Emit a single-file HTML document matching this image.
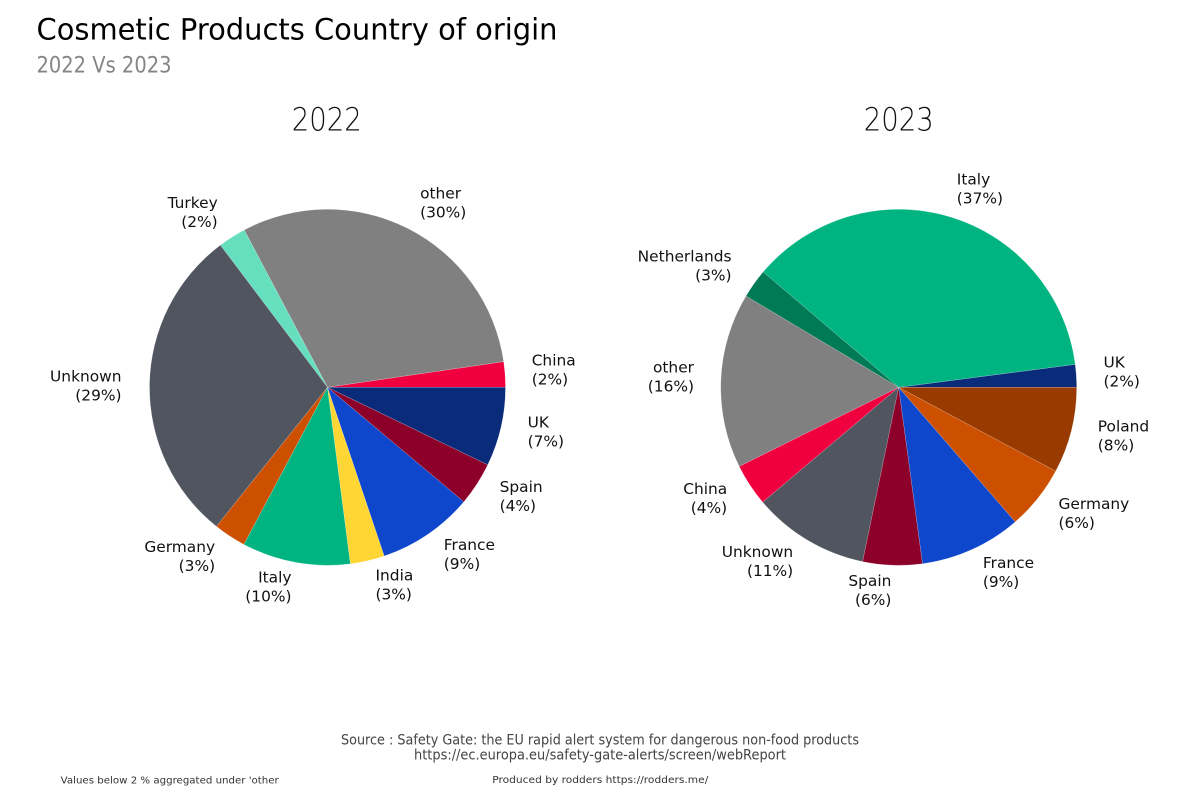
<!DOCTYPE html>
<html>
<head>
<meta charset="utf-8">
<style>
  html, body { margin:0; padding:0; background:#ffffff; }
  svg { display:block; }
  .lbl { font-family: "DejaVu Sans", "Liberation Sans", sans-serif; font-size:15.4px; fill:#111; }
</style>
</head>
<body>
<svg width="1200" height="800" viewBox="0 0 1200 800" xmlns="http://www.w3.org/2000/svg">
  <rect width="1200" height="800" fill="#ffffff"/>

  <!-- Titles -->
  <text x="36.5" y="39.5" font-family="DejaVu Sans, Liberation Sans, sans-serif" font-size="29" fill="#000" textLength="521" lengthAdjust="spacingAndGlyphs">Cosmetic Products Country of origin</text>
  <text x="36.5" y="72.3" font-family="DejaVu Sans, Liberation Sans, sans-serif" font-size="22.5" fill="#858585" textLength="135" lengthAdjust="spacingAndGlyphs">2022 Vs 2023</text>

  <text x="326.7" y="130.7" text-anchor="middle" font-family="DejaVu Sans, Liberation Sans, sans-serif" font-weight="200" font-size="32" fill="#111" textLength="70" lengthAdjust="spacingAndGlyphs">2022</text>
  <text x="898.7" y="130.7" text-anchor="middle" font-family="DejaVu Sans, Liberation Sans, sans-serif" font-weight="200" font-size="32" fill="#111" textLength="70" lengthAdjust="spacingAndGlyphs">2023</text>

  <!-- Left pie 2022 -->
  <g stroke="#ffffff" stroke-width="0.3" stroke-opacity="0.6">
    <path d="M327.5 387.3 L505.5 387.3 A178 178 0 0 0 503.64 361.60 Z" fill="#f0003f"/>
    <path d="M327.5 387.3 L503.64 361.60 A178 178 0 0 0 244.21 229.99 Z" fill="#808080"/>
    <path d="M327.5 387.3 L244.21 229.99 A178 178 0 0 0 220.38 245.14 Z" fill="#66dfbf"/>
    <path d="M327.5 387.3 L220.38 245.14 A178 178 0 0 0 216.45 526.41 Z" fill="#505560"/>
    <path d="M327.5 387.3 L216.45 526.41 A178 178 0 0 0 243.93 544.46 Z" fill="#cc5000"/>
    <path d="M327.5 387.3 L243.93 544.46 A178 178 0 0 0 350.43 563.82 Z" fill="#00b482"/>
    <path d="M327.5 387.3 L350.43 563.82 A178 178 0 0 0 384.27 556.00 Z" fill="#ffd633"/>
    <path d="M327.5 387.3 L384.27 556.00 A178 178 0 0 0 463.86 501.72 Z" fill="#0f47cc"/>
    <path d="M327.5 387.3 L463.86 501.72 A178 178 0 0 0 487.76 464.77 Z" fill="#8c002a"/>
    <path d="M327.5 387.3 L487.76 464.77 A178 178 0 0 0 505.5 387.3 Z" fill="#0a2b7a"/>
  </g>

  <!-- Right pie 2023 -->
  <g stroke="#ffffff" stroke-width="0.3" stroke-opacity="0.6">
    <path d="M898.7 387.3 L1076.7 387.3 A178 178 0 0 0 1075.22 364.37 Z" fill="#0a2b7a"/>
    <path d="M898.7 387.3 L1075.22 364.37 A178 178 0 0 0 763.15 271.93 Z" fill="#00b482"/>
    <path d="M898.7 387.3 L763.15 271.93 A178 178 0 0 0 745.96 296.07 Z" fill="#007a55"/>
    <path d="M898.7 387.3 L745.96 296.07 A178 178 0 0 0 739.26 466.45 Z" fill="#808080"/>
    <path d="M898.7 387.3 L739.26 466.45 A178 178 0 0 0 762.74 502.19 Z" fill="#f0003f"/>
    <path d="M898.7 387.3 L762.74 502.19 A178 178 0 0 0 862.60 561.60 Z" fill="#505560"/>
    <path d="M898.7 387.3 L862.60 561.60 A178 178 0 0 0 922.55 563.69 Z" fill="#8c002a"/>
    <path d="M898.7 387.3 L922.55 563.69 A178 178 0 0 0 1015.24 521.84 Z" fill="#0f47cc"/>
    <path d="M898.7 387.3 L1015.24 521.84 A178 178 0 0 0 1055.70 471.16 Z" fill="#cc5000"/>
    <path d="M898.7 387.3 L1055.70 471.16 A178 178 0 0 0 1076.7 387.3 Z" fill="#993a00"/>
  </g>

  <!-- Left pie labels -->
  <g class="lbl">
    <text class="lbl" x="531.7" y="365.7">China</text>
    <text class="lbl" x="531.7" y="384.7">(2%)</text>

    <text class="lbl" x="420.1" y="198.3">other</text>
    <text class="lbl" x="420.1" y="217.3">(30%)</text>

    <text class="lbl" x="217.7" y="208.2" text-anchor="end">Turkey</text>
    <text class="lbl" x="217.7" y="227.2" text-anchor="end">(2%)</text>

    <text class="lbl" x="121.5" y="381.7" text-anchor="end">Unknown</text>
    <text class="lbl" x="121.5" y="400.7" text-anchor="end">(29%)</text>

    <text class="lbl" x="215.1" y="552.2" text-anchor="end">Germany</text>
    <text class="lbl" x="215.1" y="571.2" text-anchor="end">(3%)</text>

    <text class="lbl" x="291.5" y="582.5" text-anchor="end">Italy</text>
    <text class="lbl" x="291.5" y="601.5" text-anchor="end">(10%)</text>

    <text class="lbl" x="375.5" y="580.5">India</text>
    <text class="lbl" x="375.5" y="599.5">(3%)</text>

    <text class="lbl" x="443.8" y="550.0">France</text>
    <text class="lbl" x="443.8" y="569.0">(9%)</text>

    <text class="lbl" x="499.6" y="492.2">Spain</text>
    <text class="lbl" x="499.6" y="511.2">(4%)</text>

    <text class="lbl" x="527.6" y="427.7">UK</text>
    <text class="lbl" x="527.6" y="446.7">(7%)</text>
  </g>

  <!-- Right pie labels -->
  <g class="lbl">
    <text class="lbl" x="1103.5" y="367.5">UK</text>
    <text class="lbl" x="1103.5" y="386.5">(2%)</text>

    <text class="lbl" x="956.8" y="184.4">Italy</text>
    <text class="lbl" x="956.8" y="203.4">(37%)</text>

    <text class="lbl" x="731.5" y="261.4" text-anchor="end">Netherlands</text>
    <text class="lbl" x="731.5" y="280.4" text-anchor="end">(3%)</text>

    <text class="lbl" x="694.0" y="372.7" text-anchor="end">other</text>
    <text class="lbl" x="694.0" y="391.7" text-anchor="end">(16%)</text>

    <text class="lbl" x="727.2" y="493.8" text-anchor="end">China</text>
    <text class="lbl" x="727.2" y="512.8" text-anchor="end">(4%)</text>

    <text class="lbl" x="793.2" y="557.0" text-anchor="end">Unknown</text>
    <text class="lbl" x="793.2" y="576.0" text-anchor="end">(11%)</text>

    <text class="lbl" x="891.4" y="585.8" text-anchor="end">Spain</text>
    <text class="lbl" x="891.4" y="604.8" text-anchor="end">(6%)</text>

    <text class="lbl" x="982.9" y="567.8">France</text>
    <text class="lbl" x="982.9" y="586.8">(9%)</text>

    <text class="lbl" x="1058.5" y="509.0">Germany</text>
    <text class="lbl" x="1058.5" y="528.0">(6%)</text>

    <text class="lbl" x="1097.8" y="431.5">Poland</text>
    <text class="lbl" x="1097.8" y="450.5">(8%)</text>
  </g>

  <!-- Footer -->
  <text x="600" y="744.3" text-anchor="middle" font-family="DejaVu Sans, Liberation Sans, sans-serif" font-size="14" fill="#444" textLength="518" lengthAdjust="spacingAndGlyphs">Source : Safety Gate: the EU rapid alert system for dangerous non-food products</text>
  <text x="600" y="759.3" text-anchor="middle" font-family="DejaVu Sans, Liberation Sans, sans-serif" font-size="14" fill="#444" textLength="372" lengthAdjust="spacingAndGlyphs">https://ec.europa.eu/safety-gate-alerts/screen/webReport</text>
  <text x="60.7" y="783.3" font-family="DejaVu Sans, Liberation Sans, sans-serif" font-size="10" fill="#333" textLength="218" lengthAdjust="spacingAndGlyphs">Values below 2 % aggregated under 'other</text>
  <text x="492.3" y="783.0" font-family="DejaVu Sans, Liberation Sans, sans-serif" font-size="10" fill="#333" textLength="216" lengthAdjust="spacingAndGlyphs">Produced by rodders https://rodders.me/</text>
</svg>
</body>
</html>
